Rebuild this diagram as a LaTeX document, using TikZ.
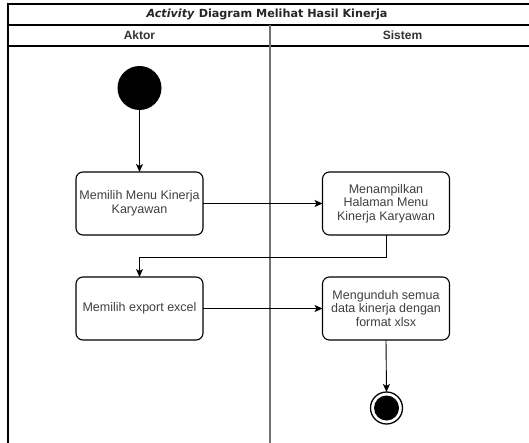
\documentclass[tikz,border=0pt]{standalone}
\usepackage{fontspec}
\setmainfont{Liberation Sans}
\newfontfamily\titlefont{DejaVu Sans}
\usetikzlibrary{arrows.meta}
\begin{document}
\begin{tikzpicture}[x=1pt,y=-1pt,
  frame/.style={line width=1.2pt,black},
  lanediv/.style={line width=1.6pt,black!55},
  actbox/.style={draw,line width=1.1pt,rounded corners=7pt,minimum width=127pt,minimum height=63pt,
    inner sep=1pt,outer sep=0pt,align=center,font=\fontsize{12.5}{13.5}\selectfont,text=black!75},
  flow/.style={line width=0.9pt,-{Stealth[length=8pt,width=7pt,inset=2pt]}},
  lanehead/.style={font=\fontsize{12}{13}\selectfont\bfseries,text=black!80}
]
\useasboundingbox (0,0) rectangle (529,443);
\fill[white] (0,0) rectangle (529,443);
\begin{scope}
\clip (0,0) rectangle (529,443);
% pool frame, open at the right and bottom
\draw[frame] (8,450) -- (8,4) -- (540,4);
\draw[frame] (8,25) -- (540,25);
\draw[frame] (8,46) -- (540,46);
\draw[lanediv] (270,25) -- (270,450);
\end{scope}

% headers
\node[font=\titlefont\fontsize{11.2}{13}\selectfont\bfseries,text=black!85] (title) at (267,14.5) {\textit{Activity} Diagram Melihat Hasil Kinerja};
\node[lanehead] (aktor) at (139.5,35.5) {Aktor};
\node[lanehead] (sistem) at (402.5,35.5) {Sistem};

% start node
\node[circle,fill=black,minimum size=44pt,inner sep=0pt,outer sep=0pt] (start) at (139.5,88) {};

% actions
\node[actbox] (a1) at (139.5,203.5) {Memilih Menu Kinerja\\Karyawan};
\node[actbox] (s1) at (386,203.5) {Menampilkan\\Halaman Menu\\Kinerja Karyawan};
\node[actbox] (a2) at (139.5,308.5) {Memilih export excel};
\node[actbox] (s2) at (386,308.5) {Mengunduh semua\\data kinerja dengan\\format xlsx};

% end node
\node[circle,draw=black,line width=1.3pt,minimum size=32pt,inner sep=0pt,outer sep=0pt] (end) at (386.5,408) {};
\fill[black] (end.center) circle (12.5pt);

% flows
\draw[flow] (start) -- (a1.north);
\draw[flow] (a1.east) -- (s1.west);
\draw[flow] (s1.south) -- ++(0,22) -| (a2.north);
\draw[flow] (a2.east) -- (s2.west);
\draw[flow] (s2.south) -- (end.north);
\end{tikzpicture}
\end{document}
